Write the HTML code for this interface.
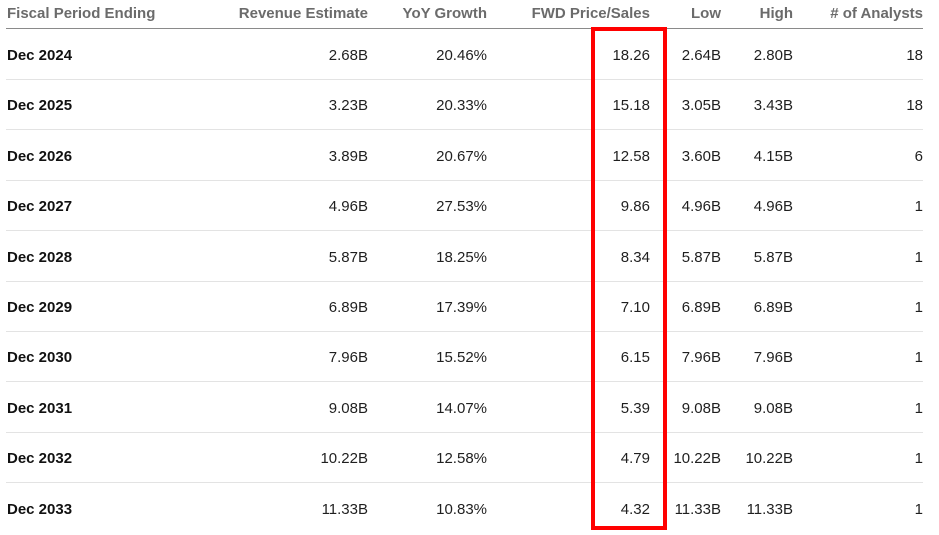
<!DOCTYPE html>
<html><head><meta charset="utf-8"><style>
body{margin:0;width:939px;height:535px;background:#fff;position:relative;overflow:hidden;font-family:"Liberation Sans",Arial,sans-serif;}
.t{position:absolute;font-size:15px;line-height:18px;white-space:nowrap;color:#1f1f1f;}
.h{color:#6b6b6b;font-weight:bold;top:5px;}
.r{text-align:right;}
.line{position:absolute;left:6px;width:917px;height:1px;background:#e3e3e3;}
</style></head><body>
<div class="t h" style="left:7px">Fiscal Period Ending</div>
<div class="t h r" style="right:571px">Revenue Estimate</div>
<div class="t h r" style="right:452px">YoY Growth</div>
<div class="t h r" style="right:289px">FWD Price/Sales</div>
<div class="t h r" style="right:218px">Low</div>
<div class="t h r" style="right:146px">High</div>
<div class="t h r" style="right:16px"># of Analysts</div>
<div class="line" style="top:28px;background:#8a8a8a"></div>
<div id="rows"></div>
<script>
var d=[["Dec 2024","2.68B","20.46%","18.26","2.64B","2.80B","18"],
["Dec 2025","3.23B","20.33%","15.18","3.05B","3.43B","18"],
["Dec 2026","3.89B","20.67%","12.58","3.60B","4.15B","6"],
["Dec 2027","4.96B","27.53%","9.86","4.96B","4.96B","1"],
["Dec 2028","5.87B","18.25%","8.34","5.87B","5.87B","1"],
["Dec 2029","6.89B","17.39%","7.10","6.89B","6.89B","1"],
["Dec 2030","7.96B","15.52%","6.15","7.96B","7.96B","1"],
["Dec 2031","9.08B","14.07%","5.39","9.08B","9.08B","1"],
["Dec 2032","10.22B","12.58%","4.79","10.22B","10.22B","1"],
["Dec 2033","11.33B","10.83%","4.32","11.33B","11.33B","1"]];
var rt=[571,452,289,218,146,16],h="";
d.forEach(function(r,i){var y=47+i*50.4;
h+='<div class="t" style="left:7px;top:'+y+'px;font-weight:bold;color:#111">'+r[0]+'</div>';
for(var j=1;j<7;j++)h+='<div class="t r" style="right:'+rt[j-1]+'px;top:'+y+'px">'+r[j]+'</div>';
if(i<9)h+='<div class="line" style="top:'+(79+i*50.4)+'px"></div>';});
document.getElementById('rows').innerHTML=h;
</script>
<div style="position:absolute;left:591px;top:27px;width:68px;height:495px;border:4px solid #ff0000;"></div>
</body></html>
